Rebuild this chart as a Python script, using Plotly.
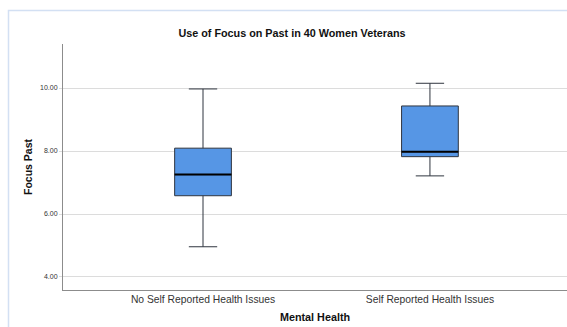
import plotly.graph_objects as go

# Group labels and five-number summaries of "Focus Past" scores
groups = ["No Self Reported Health Issues", "Self Reported Health Issues"]
lower_whisker = [4.96, 7.21]
q1 = [6.58, 7.82]
median = [7.25, 7.98]
q3 = [8.09, 9.43]
upper_whisker = [9.97, 10.15]
y_ticks = [4, 6, 8, 10]
y_tick_labels = ["4.00", "6.00", "8.00", "10.00"]

W, H = 567, 327
ML, MR, MT, MB = 63, 0, 44, 37
plot_w = W - ML - MR
plot_h = H - MT - MB

positions = list(range(len(groups)))
box_w = 0.25

fig = go.Figure()
fig.add_trace(go.Box(
    x=positions,
    q1=q1, median=median, q3=q3,
    lowerfence=lower_whisker, upperfence=upper_whisker,
    width=box_w,
    whiskerwidth=0.5,
    fillcolor="#5696E5",
    line=dict(color="#2f353f", width=1),
    boxpoints=False,
    showlegend=False,
    hoverinfo="skip",
))

# Heavier median bars drawn on top of each box
mx, my = [], []
for p, m in zip(positions, median):
    mx += [p - box_w / 2, p + box_w / 2, None]
    my += [m, m, None]
fig.add_trace(go.Scatter(
    x=mx, y=my, mode="lines",
    line=dict(color="#000000", width=2),
    showlegend=False, hoverinfo="skip",
))

# Light blue frame around the chart panel
def px_to_paper_x(px):
    return (px - ML) / plot_w

def px_to_paper_y(py):
    return (H - MB - py) / plot_h

fig.add_shape(
    type="rect", xref="paper", yref="paper",
    x0=px_to_paper_x(8.5), x1=px_to_paper_x(W + 20),
    y0=px_to_paper_y(H + 20), y1=px_to_paper_y(10.5),
    line=dict(color="#d3e0f3", width=1.5),
    fillcolor="rgba(0,0,0,0)", layer="below",
)

font_family = "Liberation Sans, Arial, sans-serif"

fig.update_layout(
    width=W, height=H,
    margin=dict(l=ML, r=MR, t=MT, b=MB, pad=0),
    paper_bgcolor="white", plot_bgcolor="white",
    font=dict(family=font_family, color="#222222"),
    title=dict(
        text="<b>Use of Focus on Past in 40 Women Veterans</b>",
        x=292 / W, xanchor="center", xref="container",
        y=1 - 33 / H, yanchor="middle", yref="container",
        font=dict(size=10.8, color="#111111"),
    ),
    xaxis=dict(
        range=[-0.617, 1.604],
        tickvals=positions, ticktext=groups,
        tickfont=dict(size=10.3, color="#333333"),
        showgrid=False, zeroline=False,
        showline=True, linecolor="#8c8c8c", linewidth=1,
        ticks="", ticklen=0,
        title=dict(text="<b>Mental Health</b>", font=dict(size=10.8, color="#111111"), standoff=9),
    ),
    yaxis=dict(
        range=[3.587, 11.397],
        tickvals=y_ticks, ticktext=y_tick_labels,
        tickfont=dict(size=7, color="#333333"),
        showgrid=True, gridcolor="#dcdcdc", gridwidth=1,
        zeroline=False,
        showline=True, linecolor="#8c8c8c", linewidth=1,
        ticks="outside", ticklen=3, tickcolor="#dcdcdc",
        title=dict(text="<b>Focus Past</b>", font=dict(size=10.5, color="#111111"), standoff=5),
    ),
)

fig.write_html("out.html")
